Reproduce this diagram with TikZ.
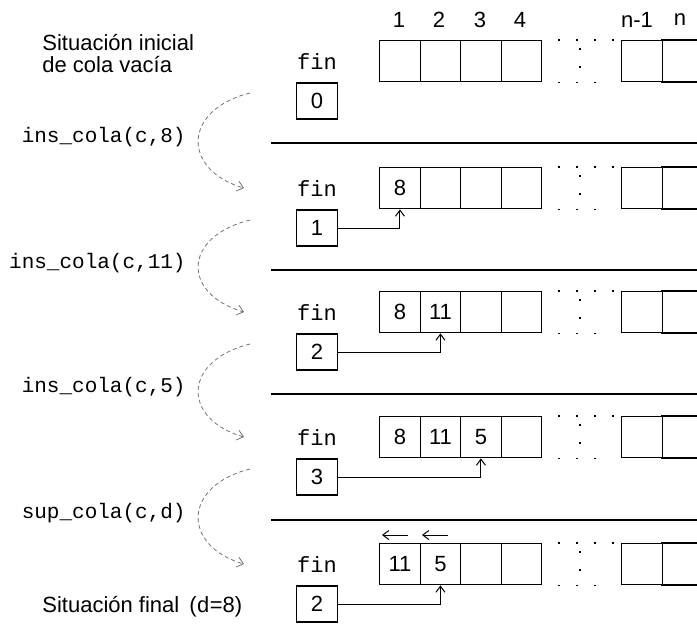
\documentclass[tikz,border=0pt]{standalone}
\usepackage{fontspec}
\setmainfont{Liberation Sans}
\setmonofont{Liberation Mono}
\usetikzlibrary{arrows.meta,calc}
\begin{document}
\begin{tikzpicture}[x=0.5pt,y=-0.5pt,
  cell/.style={draw,line width=0.7pt,minimum width=20.25pt,minimum height=20.5pt,inner sep=0pt,anchor=north west,font=\fontsize{11}{13}\selectfont},
  opencell/.style={minimum width=18pt,minimum height=20.5pt,inner sep=0pt,anchor=north west},
  finlab/.style={font=\ttfamily\fontsize{11}{13}\selectfont,inner sep=0pt},
  finbox/.style={draw,line width=0.7pt,minimum width=20.5pt,minimum height=18pt,inner sep=0pt,font=\fontsize{11}{13}\selectfont},
  oplab/.style={font=\ttfamily\fontsize{10.5}{12}\selectfont,anchor=east,inner sep=0pt},
  txt/.style={font=\fontsize{11}{13}\selectfont,anchor=base west,inner sep=0pt},
  idx/.style={font=\fontsize{11}{13}\selectfont,inner sep=0pt},
  sepline/.style={line width=0.6pt},
  dots/.style={line width=0.7pt,dash pattern=on 1pt off 8pt},
  flow/.style={black!55,line width=0.4pt,dash pattern=on 2pt off 1.5pt,-{Straight Barb[length=3pt,width=5pt]}},
  ptr/.style={line width=0.5pt,-{Straight Barb[length=3pt,width=4.5pt]}},
]
\useasboundingbox[fill=white] (0,0) rectangle (697,623);

% column indices
\node[idx] (i1) at (399,20) {1};
\node[idx] (i2) at (439,20) {2};
\node[idx] (i3) at (480,20) {3};
\node[idx] (i4) at (520,20) {4};
\node[idx] (in1) at (637,20) {n-1};
\node[idx] (in) at (680,20) {n};

% rows
\foreach \r/\T/\v/\a/\b/\c in {1/40/0/{}/{}/{}, 2/167/1/8/{}/{}, 3/291/2/8/11/{}, 4/416/3/8/11/5, 5/543/2/11/5/{}}{
  \node[cell] (c\r-1) at (379,\T) {\a};
  \node[cell] (c\r-2) at (419.5,\T) {\b};
  \node[cell] (c\r-3) at (460,\T) {\c};
  \node[cell] (c\r-4) at (500.5,\T) {};
  \node[cell] (c\r-n1) at (621,\T) {};
  \node[opencell] (c\r-n) at (661,\T) {};
  \draw[line width=0.7pt] (c\r-n.north west) -- (c\r-n.north east);
  \draw[line width=0.7pt] (c\r-n.south west) -- (c\r-n.south east);
  \draw[dots] ($(c\r-4.north east)+(16,0)$) -- (c\r-n1.north west);
  \draw[dots] ($(c\r-4.south east)+(16,0)$) -- ($(c\r-n1.south west)+(-20,0)$);
  \draw[dots] (580,{\T+8}) -- (580,{\T+36});
  \node[finlab] (fl\r) at (317,{\T+22}) {fin};
  \node[finbox] (fb\r) at (317,{\T+61}) {\v};
}

% separators
\foreach \y in {143,270,394,520}{
  \draw[sepline] (271,\y) -- (697,\y);
}

% pointers from fin to array
\draw[ptr] (fb2.east) -| (c2-1.south);
\draw[ptr] (fb3.east) -| (c3-2.south);
\draw[ptr] (fb4.east) -| (c4-3.south);
\draw[ptr] (fb5.east) -| (c5-2.south);

% shift arrows in final row
\coordinate (la1s) at (408,535); \coordinate (la1e) at (382,535);
\coordinate (la2s) at (448,535); \coordinate (la2e) at (422,535);
\draw[ptr] (la1s) -- (la1e);
\draw[ptr] (la2s) -- (la2e);

% flow curves and operation labels
\foreach \r/\sy/\ey/\op in {1/93/188/{ins\_cola(c,8)}, 2/220/312/{ins\_cola(c,11)}, 3/344/437/{ins\_cola(c,5)}, 4/469/564/{sup\_cola(c,d)}}{
  \coordinate (s\r) at (250,\sy);
  \coordinate (e\r) at (244,\ey);
  \draw[flow] (s\r) .. controls (182,{\sy+17}) and (182,{\ey-18}) .. (e\r);
  \node[oplab] (op\r) at (186,{(\sy+\ey)/2-3}) {\op};
}

% texts
\node[txt] (t1) at (42,50) {Situación inicial};
\node[txt] (t2) at (42,72) {de cola vacía};
\node[txt] (t3) at (42,612) {Situación final\hspace{5pt}({\ttfamily d}=8)};
\end{tikzpicture}
\end{document}
